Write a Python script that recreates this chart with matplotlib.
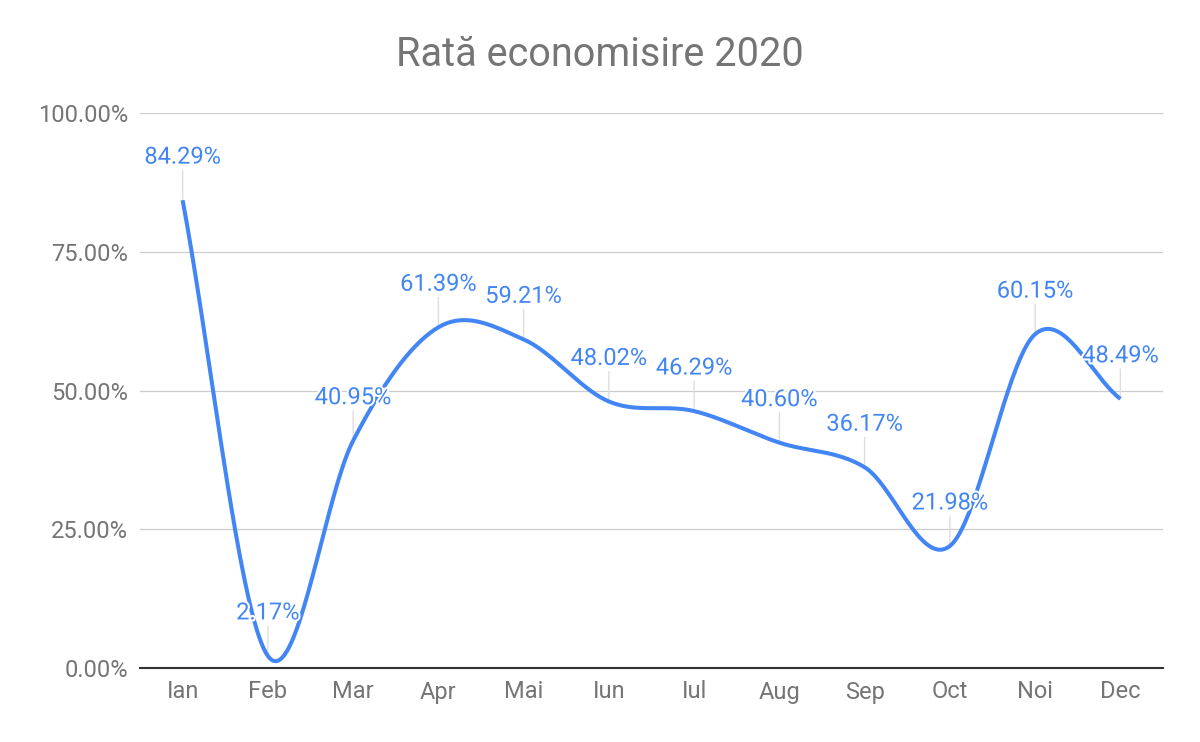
import numpy as np
import matplotlib.pyplot as plt
import matplotlib.patheffects as pe
from matplotlib.ticker import FuncFormatter

plt.rcParams['font.family'] = ['Roboto', 'DejaVu Sans']

months = ['Ian', 'Feb', 'Mar', 'Apr', 'Mai', 'Iun', 'Iul', 'Aug', 'Sep', 'Oct', 'Noi', 'Dec']
rate = [84.29, 2.17, 40.95, 61.39, 59.21, 48.02, 46.29, 40.60, 36.17, 21.98, 60.15, 48.49]
yticks = [0, 25, 50, 75, 100]

blue = '#4285f4'
grey_txt = '#757575'


def smooth(y, n=40):
    # catmull-rom style curve through the points (like "curveType: function")
    y = np.asarray(y, float)
    m = np.zeros_like(y)
    m[1:-1] = (y[2:] - y[:-2]) / 2
    m[0] = y[1] - y[0]
    m[-1] = y[-1] - y[-2]
    xs, ys = [], []
    for i in range(len(y) - 1):
        t = np.linspace(0, 1, n, endpoint=False)
        h00 = 2*t**3 - 3*t**2 + 1
        h10 = t**3 - 2*t**2 + t
        h01 = -2*t**3 + 3*t**2
        h11 = t**3 - t**2
        xs.append(i + t)
        ys.append(h00*y[i] + h10*m[i] + h01*y[i+1] + h11*m[i+1])
    xs.append([len(y) - 1])
    ys.append([y[-1]])
    return np.concatenate(xs), np.concatenate(ys)


fig = plt.figure(figsize=(12, 7.42), dpi=100)
ax = fig.add_axes([140/1200, 1 - 668/742, (1163 - 140)/1200, (668 - 113)/742])

x = np.arange(len(months))
sx, sy = smooth(rate)
ax.plot(sx, sy, color=blue, lw=2.9, solid_capstyle='butt', zorder=3)

for i, v in enumerate(rate):
    ax.annotate('', xy=(i, v), xytext=(0, 21.5), textcoords='offset points',
                arrowprops=dict(arrowstyle='-', color='#dedede', lw=1, shrinkA=0, shrinkB=0),
                zorder=2)
    t = ax.annotate(f'{v:.2f}%', xy=(i, v), xytext=(0, 31), textcoords='offset points',
                    ha='center', va='center', fontsize=17, color=blue, zorder=4)
    t.set_path_effects([pe.withStroke(linewidth=3, foreground='white')])

ax.set_xlim(-0.5, len(months) - 0.5)
ax.set_ylim(0, 100)
ax.set_xticks(x)
ax.set_xticklabels(months)
ax.set_yticks(yticks)
ax.yaxis.set_major_formatter(FuncFormatter(lambda v, p: f'{v:.2f}%'))
ax.tick_params(axis='both', length=0, labelsize=17, labelcolor=grey_txt)
ax.tick_params(axis='y', pad=8.5)
ax.tick_params(axis='x', pad=9)

ax.grid(axis='y', color='#cccccc', lw=0.9)
ax.set_axisbelow(True)
for s in ['top', 'right', 'left']:
    ax.spines[s].set_visible(False)
ax.spines['bottom'].set_color('#333333')
ax.spines['bottom'].set_linewidth(1.5)
ax.spines['bottom'].set_zorder(5)

fig.text(600/1200, 1 - 55/742, 'Rată economisire 2020', ha='center', va='center',
         fontsize=28.5, color=grey_txt)

fig.savefig('out.png', dpi=100)
